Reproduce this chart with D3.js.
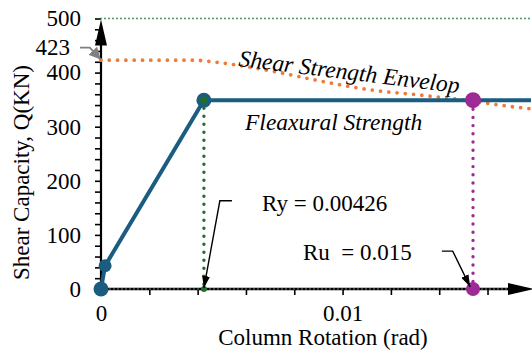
<!DOCTYPE html>
<html>
<head>
<meta charset="utf-8">
<script src="https://cdn.jsdelivr.net/npm/d3@7"></script>
<style>
  body { margin: 0; background: #fff; }
  svg, svg text { font-family: "Times New Roman", "Liberation Serif", serif !important; }
  svg { display: block; }
</style>
</head>
<body>
<svg id="chart" width="532" height="356"></svg>
<script>
// flexural (backbone) curve
const flexX = [0, 0.00017, 0.00426, 0.0178];
const flexY = [0, 43, 349, 349];
// shear strength envelope
const shearX = [0, 0.0038, 0.0048, 0.0059, 0.0074, 0.0088, 0.0102, 0.0115, 0.0129, 0.0143, 0.0151, 0.0170, 0.0178];
const shearY = [423, 423, 419, 412, 400, 387, 375, 366, 360, 353, 349, 337, 333];
const Ry = 0.00426, Ru = 0.0154, Qy = 349;
const shearTop = 423, capLimit = 500;
const yTickLabels = [0, 100, 200, 300, 400, 500];
const xTickLabels = [0, 0.01];

const svg = d3.select("#chart");
const x = d3.scaleLinear().domain([0, 0.0178]).range([101, 531]);
const y = d3.scaleLinear().domain([0, 500]).range([289, 18.5]);

const blue = "#1a5d80", orange = "#ef7b3b", green = "#1f6e2a", magenta = "#9d2a95";

const defs = svg.append("defs");
defs.append("marker").attr("id", "arrB")
  .attr("viewBox", "0 0 12 8").attr("refX", 12).attr("refY", 4)
  .attr("markerWidth", 12).attr("markerHeight", 8)
  .attr("markerUnits", "userSpaceOnUse").attr("orient", "auto")
  .append("path").attr("d", "M0,0L12,4L0,8Z").attr("fill", "#000");
defs.append("marker").attr("id", "arrG")
  .attr("viewBox", "0 0 12 12").attr("refX", 12).attr("refY", 6)
  .attr("markerWidth", 12).attr("markerHeight", 12)
  .attr("markerUnits", "userSpaceOnUse").attr("orient", "auto")
  .append("path").attr("d", "M0,0L12,6L0,12Z").attr("fill", "#808080");

// y axis
const yAxis = svg.append("g").attr("transform", `translate(${x(0)},0)`)
  .call(d3.axisLeft(y).tickValues(d3.range(0, 501, 20)).tickSize(6).tickPadding(14)
    .tickFormat(d => yTickLabels.includes(d) ? d : ""));
yAxis.attr("font-family", null);
yAxis.select(".domain").remove();
yAxis.selectAll(".tick line").attr("stroke", "#000").attr("stroke-width", 1.6);
yAxis.selectAll("text").attr("font-size", 23).attr("fill", "#000");

// x axis
const xAxis = svg.append("g").attr("transform", `translate(0,${y(0)})`)
  .call(d3.axisBottom(x).tickValues(d3.range(9).map(i => i * 0.002)).tickSize(6).tickPadding(10)
    .tickFormat(d => xTickLabels.some(v => Math.abs(v - d) < 1e-9) ? d3.format("~g")(+d.toFixed(4)) : ""));
xAxis.attr("font-family", null);
xAxis.select(".domain").remove();
xAxis.selectAll(".tick line").attr("stroke", "#000").attr("stroke-width", 1.6);
xAxis.selectAll("text").attr("font-size", 23).attr("fill", "#000");

// axis lines with arrows
svg.append("line").attr("x1", x(0)).attr("x2", x(0)).attr("y1", y(0)).attr("y2", y(500) + 10)
  .attr("stroke", "#000").attr("stroke-width", 2.2);
svg.append("path").attr("fill", "#000")
  .attr("d", `M${x(0)},${y(500) + 1}L${x(0) - 6},${y(500) + 27}L${x(0) + 6},${y(500) + 27}Z`);
svg.append("line").attr("x1", x(0)).attr("x2", 512).attr("y1", y(0)).attr("y2", y(0))
  .attr("stroke", "#000").attr("stroke-width", 2.6);
svg.append("line").attr("x1", x(0)).attr("x2", 512).attr("y1", y(0)).attr("y2", y(0))
  .attr("stroke", "#9a9a9a").attr("stroke-width", 0.8).attr("stroke-dasharray", "2 2");
svg.append("path").attr("fill", "#000")
  .attr("d", `M534,${y(0)}L508,${y(0) - 6}L508,${y(0) + 6}Z`);

// 500 limit line
svg.append("line").attr("x1", x(0)).attr("x2", 532).attr("y1", y(capLimit)).attr("y2", y(capLimit))
  .attr("stroke", "#2f8a3c").attr("stroke-width", 1.8)
  .attr("stroke-linecap", "round").attr("stroke-dasharray", "0 4");

// shear envelope
const shearPts = shearX.map((v, i) => [v, shearY[i]]);
svg.append("path").datum(shearPts)
  .attr("d", d3.line().x(d => x(d[0])).y(d => y(d[1])).curve(d3.curveMonotoneX))
  .attr("fill", "none").attr("stroke", orange).attr("stroke-width", 3.8)
  .attr("stroke-linecap", "round").attr("stroke-dasharray", "0 8.3");

// vertical dotted lines
svg.append("line").attr("x1", x(Ry)).attr("x2", x(Ry)).attr("y1", y(Qy) + 8).attr("y2", y(0))
  .attr("stroke", green).attr("stroke-width", 3.4).attr("stroke-linecap", "round").attr("stroke-dasharray", "0 8");
svg.append("line").attr("x1", x(Ru)).attr("x2", x(Ru)).attr("y1", y(Qy) + 9).attr("y2", y(0))
  .attr("stroke", magenta).attr("stroke-width", 3.4).attr("stroke-linecap", "round").attr("stroke-dasharray", "0 8.2");

// flexural curve
const flexPts = flexX.map((v, i) => [v, flexY[i]]);
svg.append("path").datum(flexPts)
  .attr("d", d3.line().x(d => x(d[0])).y(d => y(d[1])))
  .attr("fill", "none").attr("stroke", blue).attr("stroke-width", 4).attr("stroke-linejoin", "round");
svg.selectAll(".fm").data(flexPts.slice(0, 3)).join("circle")
  .attr("cx", d => x(d[0])).attr("cy", d => y(d[1]))
  .attr("r", (d, i) => [7.5, 6.5, 7.5][i]).attr("fill", blue);

svg.append("circle").attr("cx", x(Ry)).attr("cy", y(Qy)).attr("r", 3.8).attr("fill", green);
svg.append("circle").attr("cx", x(Ry)).attr("cy", y(0)).attr("r", 3).attr("fill", green);
svg.append("circle").attr("cx", x(Ru)).attr("cy", y(Qy)).attr("r", 8).attr("fill", magenta);
svg.append("circle").attr("cx", x(Ru)).attr("cy", y(0)).attr("r", 7).attr("fill", magenta);

// annotation arrows
const ann = d3.line().x(d => x(d[0])).y(d => y(d[1]));
svg.append("path").datum([[0.00542, 163], [0.00492, 163], [Ry, 2]])
  .attr("d", ann).attr("fill", "none").attr("stroke", "#000").attr("stroke-width", 1.4).attr("marker-end", "url(#arrB)");
svg.append("path").datum([[0.01411, 70], [0.01456, 70], [Ru - 0.00012, 4]])
  .attr("d", ann).attr("fill", "none").attr("stroke", "#000").attr("stroke-width", 1.4).attr("marker-end", "url(#arrB)");
svg.append("path").datum([[-0.00087, 446], [-0.00046, 446], [-0.00001, shearTop + 1]])
  .attr("d", ann).attr("fill", "none").attr("stroke", "#808080").attr("stroke-width", 1.8).attr("marker-end", "url(#arrG)");

// texts
const txt = (s, px, py, opts = {}) => svg.append("text").attr("x", px).attr("y", py)
  .attr("font-size", opts.size || 23).attr("text-anchor", opts.anchor || "start")
  .attr("font-style", opts.italic ? "italic" : null)
  .attr("transform", opts.rot ? `rotate(${opts.rot},${px},${py})` : null)
  .style("white-space", "pre").attr("fill", "#000").text(s);

txt(String(shearTop), 70, 55, {anchor: "end"});
txt("Ry = 0.00426", 262, 211);
txt("Ru  = 0.015", 303, 260);
txt("Shear Strength Envelop", 238, 66, {italic: true, rot: 7, size: 23.5});
txt("Fleaxural Strength", 245, 130, {italic: true, size: 23.5});
txt("Column Rotation (rad)", 323, 345, {anchor: "middle"});
svg.append("text").attr("transform", "translate(29,172.5) rotate(-90)")
  .attr("text-anchor", "middle").attr("font-size", 23).attr("fill", "#000")
  .text("Shear Capacity, Q(KN)");
</script>
</body>
</html>
